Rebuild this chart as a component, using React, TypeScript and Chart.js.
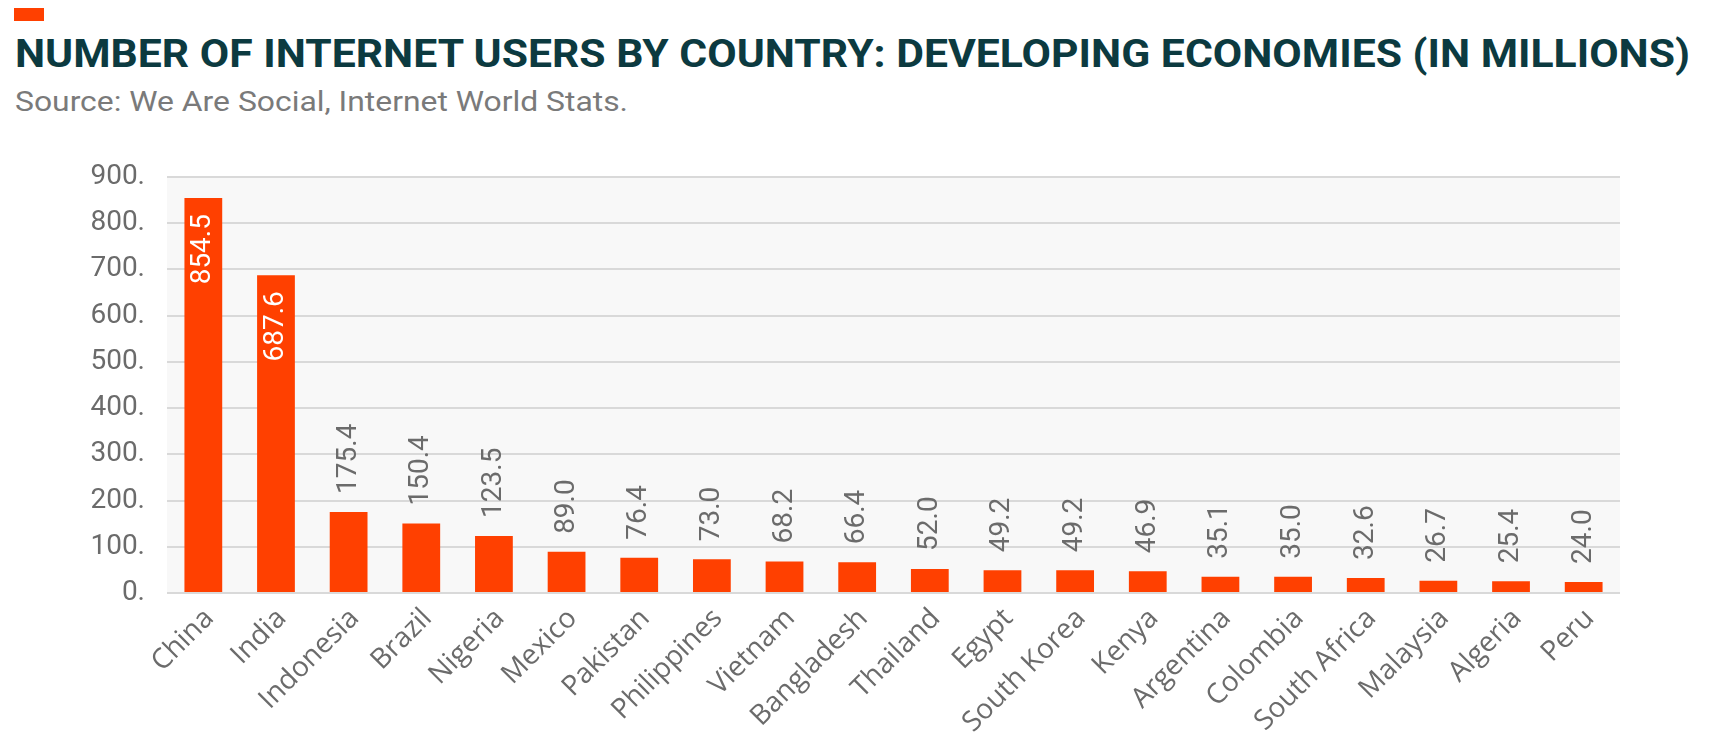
import React, { useEffect, useLayoutEffect, useRef } from "react";
import { Chart, registerables } from "chart.js";

Chart.register(...registerables);

const TITLE = "NUMBER OF INTERNET USERS BY COUNTRY: DEVELOPING ECONOMIES (IN MILLIONS)";
const SUBTITLE = "Source: We Are Social, Internet World Stats.";

const countries = [
  "China", "India", "Indonesia", "Brazil", "Nigeria", "Mexico", "Pakistan",
  "Philippines", "Vietnam", "Bangladesh", "Thailand", "Egypt", "South Korea",
  "Kenya", "Argentina", "Colombia", "South Africa", "Malaysia", "Algeria", "Peru",
];
const users = [
  854.5, 687.6, 175.4, 150.4, 123.5, 89.0, 76.4, 73.0, 68.2, 66.4, 52.0, 49.2,
  49.2, 46.9, 35.1, 35.0, 32.6, 26.7, 25.4, 24.0,
];
const yMin = 0;
const yMax = 900;
const yStep = 100;

const BAR = "#ff4000";
const GRID = "#d9d9d9";
const TICK = "#6b6b6b";

const bgPlugin = {
  id: "plotBg",
  beforeDraw(chart: any) {
    const { ctx, chartArea } = chart;
    ctx.save();
    ctx.fillStyle = "#f8f8f8";
    ctx.fillRect(chartArea.left, chartArea.top, chartArea.right - chartArea.left, chartArea.bottom - chartArea.top);
    ctx.restore();
  },
};

const valueLabels = {
  id: "valueLabels",
  afterDatasetsDraw(chart: any) {
    const { ctx } = chart;
    const meta = chart.getDatasetMeta(0);
    const data = chart.data.datasets[0].data as number[];
    ctx.save();
    ctx.font = "28px Roboto";
    ctx.textBaseline = "middle";
    meta.data.forEach((bar: any, i: number) => {
      const v = data[i];
      const txt = v.toFixed(1);
      ctx.save();
      ctx.translate(bar.x, 0);
      ctx.rotate(-Math.PI / 2);
      if (v > 500) {
        ctx.fillStyle = "#ffffff";
        ctx.textAlign = "right";
        ctx.fillText(txt, -(bar.y + 16), 0);
      } else {
        ctx.fillStyle = TICK;
        ctx.textAlign = "left";
        ctx.fillText(txt, -(bar.y - 18), 0);
      }
      ctx.restore();
    });
    ctx.restore();
  },
};

function FitText({ text, width, style }: { text: string; width: number; style: React.CSSProperties }) {
  const ref = useRef<HTMLSpanElement>(null);
  useLayoutEffect(() => {
    const fit = () => {
      const el = ref.current;
      if (!el) return;
      el.style.transform = "none";
      const w = el.getBoundingClientRect().width;
      if (w > 0) el.style.transform = `scaleX(${width / w})`;
    };
    fit();
    if ((document as any).fonts) (document as any).fonts.ready.then(fit);
  }, [text, width]);
  return (
    <span ref={ref} style={{ ...style, display: "inline-block", whiteSpace: "nowrap", transformOrigin: "0 0", position: "absolute" }}>
      {text}
    </span>
  );
}

export default function App() {
  const canvasRef = useRef<HTMLCanvasElement>(null);

  useEffect(() => {
    if (!canvasRef.current) return;
    const chart = new Chart(canvasRef.current, {
      type: "bar",
      data: {
        labels: countries,
        datasets: [
          {
            data: users,
            backgroundColor: BAR,
            borderWidth: 0,
            categoryPercentage: 1,
            barPercentage: 0.52,
          },
        ],
      },
      options: {
        responsive: false,
        animation: false,
        layout: { padding: { left: 0, top: 177, right: 90, bottom: 0 } },
        plugins: {
          legend: { display: false },
          title: { display: false },
          tooltip: { enabled: false },
        },
        scales: {
          x: {
            grid: { display: false, drawTicks: false },
            border: { display: false },
            ticks: {
              autoSkip: false,
              minRotation: 45,
              maxRotation: 45,
              padding: 9,
              labelOffset: 6,
              color: TICK,
              font: { family: "'Open Sans'", size: 28 },
            },
            afterFit: (scale: any) => {
              scale.height = 155;
            },
          },
          y: {
            min: yMin,
            max: yMax,
            grid: { color: GRID, lineWidth: 2, drawTicks: false },
            border: { display: false },
            ticks: {
              stepSize: yStep,
              padding: 22,
              color: TICK,
              font: { family: "Roboto", size: 28 },
              callback: (v: any) => `${v}.`,
            },
            afterFit: (scale: any) => {
              scale.width = 167;
            },
          },
        },
      },
      plugins: [bgPlugin, valueLabels],
    });
    return () => chart.destroy();
  }, []);

  return (
    <div style={{ position: "absolute", left: 0, top: 0, width: 1710, height: 748, background: "#fff", overflow: "hidden" }}>
      <div style={{ position: "absolute", left: 14, top: 8, width: 30, height: 13, background: BAR }} />
      <div style={{ position: "absolute", left: 15, top: 35, height: 38 }}>
        <FitText
          text={TITLE}
          width={1675}
          style={{ fontFamily: "Roboto", fontWeight: 700, fontSize: 38, lineHeight: "38px", color: "#0c3a40", left: 0, top: 0 }}
        />
      </div>
      <div style={{ position: "absolute", left: 15, top: 88, height: 28 }}>
        <FitText
          text={SUBTITLE}
          width={613}
          style={{ fontFamily: "Roboto", fontWeight: 400, fontSize: 28, lineHeight: "28px", color: "#7a7a7a", left: 0, top: 0 }}
        />
      </div>
      <canvas ref={canvasRef} width={1710} height={748} style={{ position: "absolute", left: 0, top: 0, width: 1710, height: 748 }} />
    </div>
  );
}
